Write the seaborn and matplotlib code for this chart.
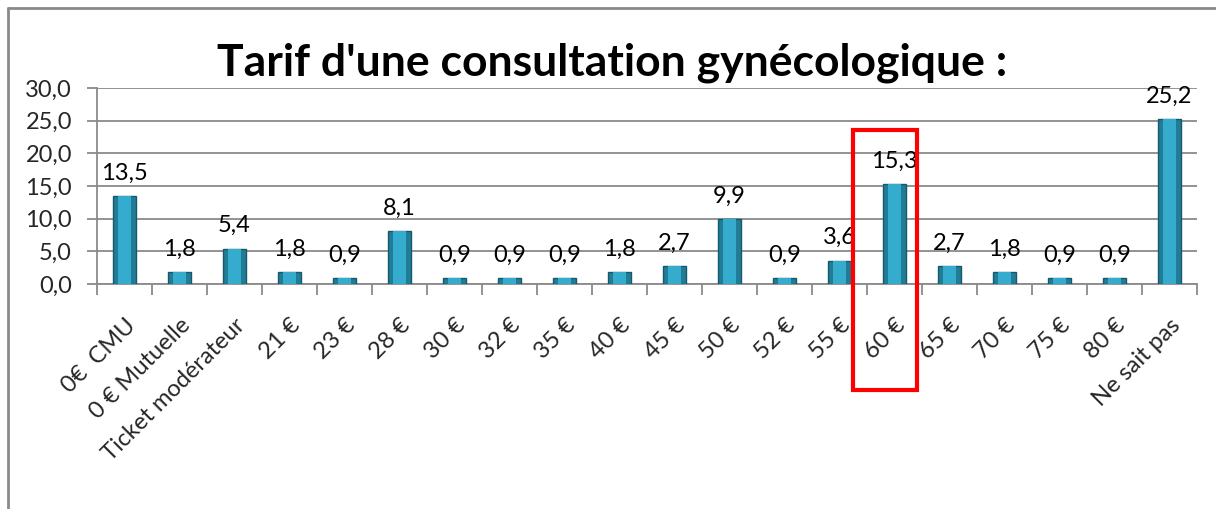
import numpy as np
import pandas as pd
import seaborn as sns
import matplotlib.pyplot as plt
from matplotlib.patches import Rectangle
from matplotlib.lines import Line2D

# Data
tarifs = ['0€  CMU', '0 € Mutuelle', 'Ticket modérateur', '21 €', '23 €', '28 €',
          '30 €', '32 €', '35 €', '40 €', '45 €', '50 €', '52 €', '55 €',
          '60 €', '65 €', '70 €', '75 €', '80 €', 'Ne sait pas']
pourcentages = [13.5, 1.8, 5.4, 1.8, 0.9, 8.1, 0.9, 0.9, 0.9, 1.8,
                2.7, 9.9, 0.9, 3.6, 15.3, 2.7, 1.8, 0.9, 0.9, 25.2]
yticks = [0, 5, 10, 15, 20, 25, 30]

df = pd.DataFrame({'tarif': tarifs, 'pct': pourcentages})

sns.set_style('white')
plt.rcParams['font.family'] = ['Lato', 'DejaVu Sans']

fig = plt.figure(figsize=(12.16, 5.09), dpi=100)
ax = fig.add_axes([0.0798, 0.442, 0.9046, 0.385])

# bars: dark body + lighter centre for the glossy look
sns.barplot(data=df, x='tarif', y='pct', color='#217c96', width=0.42,
            edgecolor='#17596c', linewidth=1, saturation=1, ax=ax, zorder=3)
sns.barplot(data=df, x='tarif', y='pct', color='#35acce', width=0.24,
            linewidth=0, saturation=1, ax=ax, zorder=4)

for i, v in enumerate(pourcentages):
    ax.text(i, v + 1.9, f'{v:.1f}'.replace('.', ','), ha='center', va='bottom',
            fontsize=17, color='black', zorder=5)

ax.set_xlim(-0.5, len(tarifs) - 0.5)
ax.set_ylim(0, 30)
ax.set_yticks(yticks)
ax.set_yticklabels([f'{t:.1f}'.replace('.', ',') for t in yticks], fontsize=17)
ax.yaxis.grid(True, color='#8a8a8a', linewidth=1.3, zorder=0)
ax.set_axisbelow(True)

ax.set_xticks(range(len(tarifs)))
ax.set_xticklabels(tarifs, rotation=45, ha='right', rotation_mode='anchor', fontsize=17)
ax.set_xticks(np.arange(-0.5, len(tarifs)), minor=True)
ax.tick_params(axis='x', which='major', length=0, pad=22)
ax.tick_params(axis='x', which='minor', length=8, width=1.3, color='#8a8a8a', direction='out', bottom=True)
ax.tick_params(axis='y', length=7, width=1.3, color='#8a8a8a', left=True, pad=11)

for s in ['top', 'right']:
    ax.spines[s].set_visible(False)
for s in ['left', 'bottom']:
    ax.spines[s].set_color('#8a8a8a')
    ax.spines[s].set_linewidth(1.3)

ax.set_xlabel('')
ax.set_ylabel('')

fig.text(0.503, 0.876, "Tarif d'une consultation gynécologique :", ha='center',
         va='center', fontsize=32, fontweight='bold', color='black')

# outer frame (top and left edges)
fig.add_artist(Line2D([0.0066, 1.0], [0.984, 0.984], color='#8a8a8a', linewidth=2))
fig.add_artist(Line2D([0.0066, 0.0066], [0.0, 0.984], color='#8a8a8a', linewidth=2))

# red highlight box around 60 €
fig.add_artist(Rectangle((0.7015, 0.2338), 0.0526, 0.5108, transform=fig.transFigure,
                         fill=False, edgecolor='#ff0000', linewidth=3, zorder=10))

fig.savefig('out.png', dpi=100)
